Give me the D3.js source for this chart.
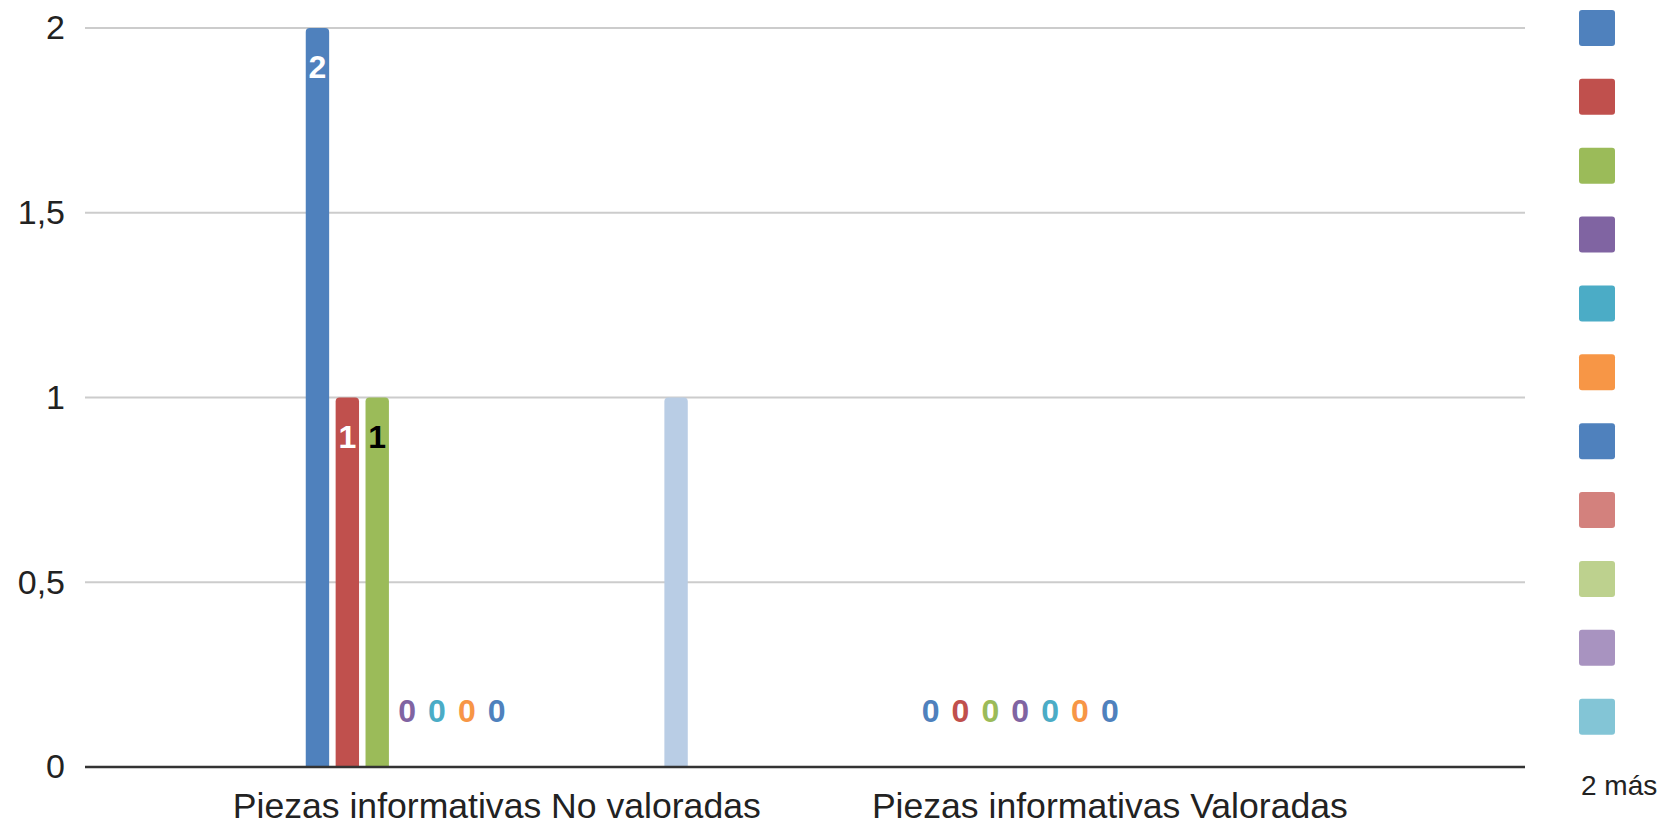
<!DOCTYPE html>
<html>
<head>
<meta charset="utf-8">
<script src="https://cdn.jsdelivr.net/npm/d3@7"></script>
<style>
  html, body { margin: 0; padding: 0; background: #fff; }
  svg { display: block; }
  text { font-family: "Liberation Sans", Arial, sans-serif; }
</style>
</head>
<body>
<svg id="chart" width="1667" height="825"></svg>
<script>
// ---- data ----
const categories = ["Piezas informativas No valoradas", "Piezas informativas Valoradas"];
const seriesColors = ["#4f81bd", "#c0504d", "#9bbb59", "#8064a2", "#4bacc6", "#f79646",
                      "#4f81bd", "#d3817d", "#bdd18e", "#a893c0", "#83c5d6", "#f9b98a", "#b9cde5"];
// values[series][category]; null = no value
const values = [
  [2, 0], [1, 0], [1, 0], [0, 0], [0, 0], [0, 0], [0, 0],
  [null, null], [null, null], [null, null], [null, null], [null, null],
  [1, null]
];
const annotatedSeries = [0, 1, 2, 3, 4, 5, 6];
const yTicks = [0, 0.5, 1, 1.5, 2];
const legendShown = 11;
const legendMoreText = "2 más";

// ---- layout ----
const W = 1667, H = 825;
const plot = { left: 85, right: 1525, top: 28, bottom: 767 };
const svg = d3.select("#chart");
svg.append("rect").attr("width", W).attr("height", H).attr("fill", "#fff");

const locale = d3.formatLocale({ decimal: ",", thousands: ".", grouping: [3], currency: ["", "€"] });
const fmt = locale.format("~g");

const y = d3.scaleLinear().domain([0, 2]).range([plot.bottom, plot.top]);
const x0 = d3.scaleBand().domain(categories).range([83.3, 1523.3]).paddingInner(0).paddingOuter(0.1744);
const x1 = d3.scaleBand().domain(d3.range(values.length)).range([0, x0.bandwidth()])
  .paddingInner(0.217).paddingOuter(3.866);

// gridlines
const grid = svg.append("g");
grid.selectAll("line").data(yTicks.filter(t => t !== 0)).join("line")
  .attr("x1", plot.left).attr("x2", plot.right)
  .attr("y1", d => y(d)).attr("y2", d => y(d))
  .attr("stroke", "#cccccc").attr("stroke-width", 2);

// y axis labels
const yAxis = d3.axisLeft(y).tickValues(yTicks).tickFormat(fmt).tickSize(0).tickPadding(20);
const yg = svg.append("g").attr("transform", `translate(${plot.left},0)`).call(yAxis);
yg.select(".domain").remove();
yg.selectAll("text").attr("font-size", 34).attr("fill", "#222")
  .attr("font-family", "'Liberation Sans', Arial, sans-serif");

// bars
const bars = [];
values.forEach((vals, s) => {
  vals.forEach((v, c) => {
    if (v === null) return;
    bars.push({ s, c, v, cat: categories[c] });
  });
});

function topRounded(xp, yt, w, h, r) {
  if (h <= 0) return "";
  r = Math.min(r, w / 2, h);
  return `M${xp},${yt + h}V${yt + r}Q${xp},${yt} ${xp + r},${yt}H${xp + w - r}Q${xp + w},${yt} ${xp + w},${yt + r}V${yt + h}Z`;
}

svg.append("g").selectAll("path").data(bars.filter(d => d.v > 0)).join("path")
  .attr("d", d => {
    const xp = x0(d.cat) + x1(d.s);
    return topRounded(xp, y(d.v), x1.bandwidth(), y(0) - y(d.v), 4);
  })
  .attr("fill", d => seriesColors[d.s]);

// baseline
svg.append("line").attr("x1", plot.left).attr("x2", plot.right)
  .attr("y1", y(0)).attr("y2", y(0)).attr("stroke", "#333").attr("stroke-width", 2.4);

// data labels
function isDark(col) {
  const c = d3.rgb(col);
  const lum = 0.299 * c.r + 0.587 * c.g + 0.114 * c.b;
  return lum < 150;
}
const labelData = bars.filter(d => annotatedSeries.includes(d.s));
svg.append("g").selectAll("text").data(labelData).join("text")
  .attr("x", d => x0(d.cat) + x1(d.s) + x1.bandwidth() / 2)
  .attr("y", d => {
    const inside = (y(0) - y(d.v)) > 60;
    return inside ? y(d.v) + 50 : y(d.v) - 45;
  })
  .attr("text-anchor", "middle")
  .attr("font-size", 32).attr("font-weight", "bold")
  .attr("paint-order", "stroke")
  .attr("stroke-linejoin", "round")
  .each(function (d) {
    const inside = (y(0) - y(d.v)) > 60;
    const col = seriesColors[d.s];
    const el = d3.select(this);
    if (inside) {
      el.attr("fill", isDark(col) ? "#ffffff" : "#000000").attr("stroke", col).attr("stroke-width", 5);
    } else {
      el.attr("fill", col).attr("stroke", "#ffffff").attr("stroke-width", 3);
    }
  })
  .text(d => fmt(d.v));

// category labels
svg.append("g").selectAll("text").data(categories).join("text")
  .attr("x", d => x0(d) + x0.bandwidth() / 2)
  .attr("y", 818)
  .attr("text-anchor", "middle")
  .attr("font-size", 35.6).attr("fill", "#222")
  .text(d => d);

// legend
const legend = svg.append("g");
const legStep = 68.87;
legend.selectAll("rect").data(d3.range(legendShown)).join("rect")
  .attr("x", 1579).attr("y", d => 10 + d * legStep)
  .attr("width", 36).attr("height", 36).attr("rx", 3)
  .attr("fill", d => seriesColors[d]);
legend.append("text").attr("x", 1581).attr("y", 795)
  .attr("font-size", 28).attr("fill", "#222").text(legendMoreText);
</script>
</body>
</html>
